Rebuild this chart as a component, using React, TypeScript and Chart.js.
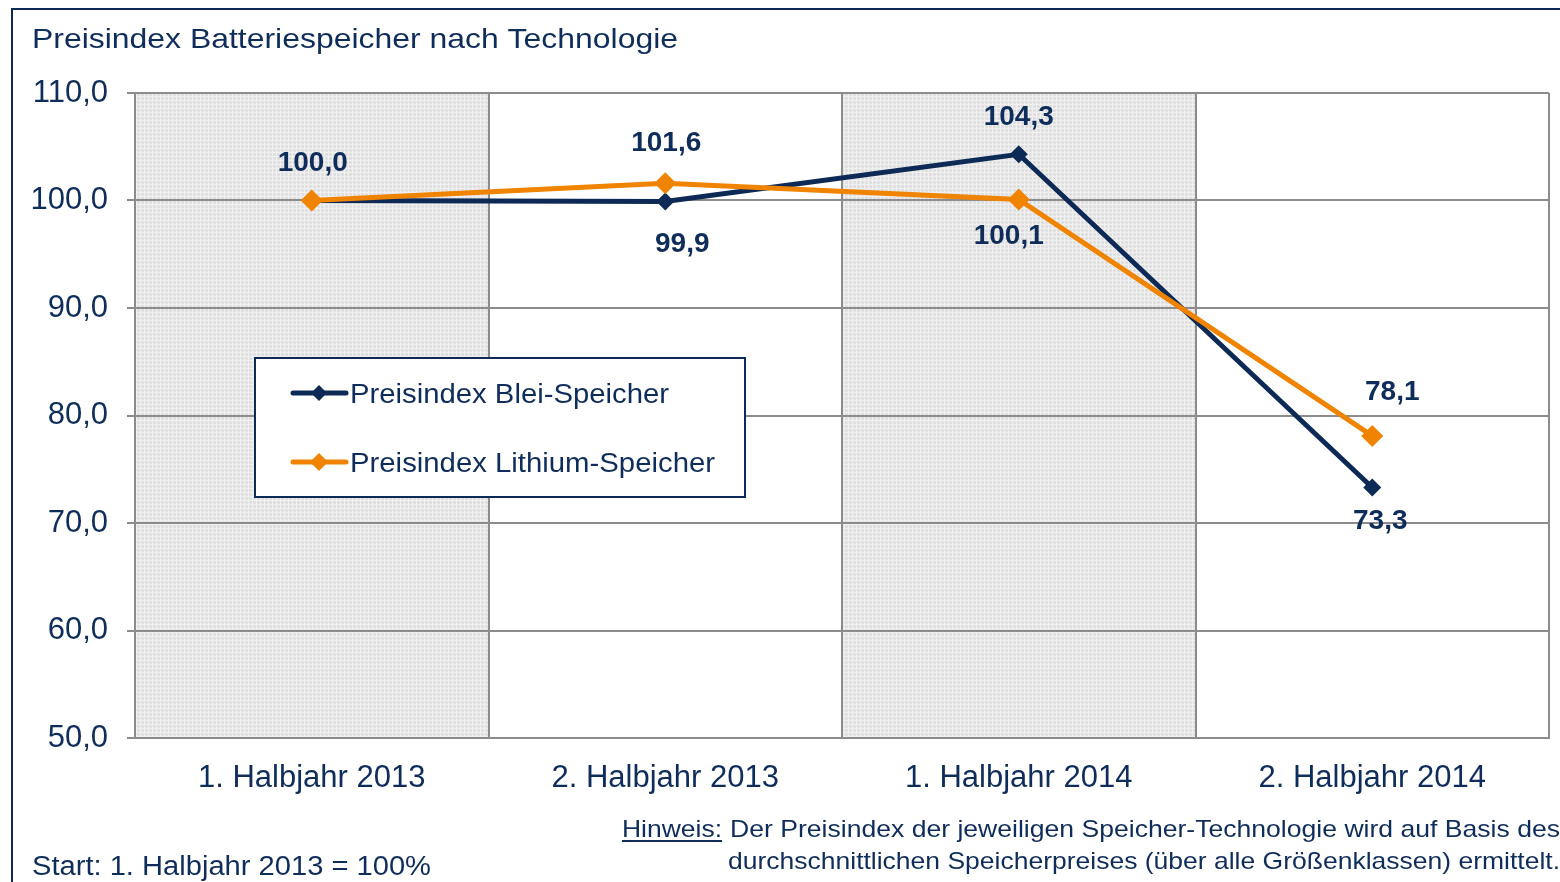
import React, { useEffect, useRef } from "react";
import { Chart, registerables } from "chart.js";

Chart.register(...registerables);

const categories = ["1. Halbjahr 2013", "2. Halbjahr 2013", "1. Halbjahr 2014", "2. Halbjahr 2014"];
const bleiValues = [100.0, 99.9, 104.3, 73.3];
const lithiumValues = [100.0, 101.6, 100.1, 78.1];
const bleiLabelShown = [true, true, true, true];
const lithiumLabelShown = [false, true, true, true];
const yMin = 50;
const yMax = 110;
const yStep = 10;
const shadedColumns = [0, 2];

const titleText = "Preisindex Batteriespeicher nach Technologie";
const bleiName = "Preisindex Blei-Speicher";
const lithiumName = "Preisindex Lithium-Speicher";
const startText = "Start: 1. Halbjahr 2013 = 100%";
const noteLabel = "Hinweis:";
const noteLine1 = "Der Preisindex der jeweiligen Speicher-Technologie wird auf Basis des";
const noteLine2 = "durchschnittlichen Speicherpreises (über alle Größenklassen) ermittelt.";

const NAVY = "#0d2a56";
const NAVY_TEXT = "#0f2d5b";
const ORANGE = "#f08300";
const GRID = "#8c8c8c";
const FONT = '"Liberation Sans", Arial, sans-serif';

// label offsets (style): [dx, dy] relative to point
const bleiLabelOffsets = [[1, -37], [17, 43], [0, -37], [8, 34]];
const lithiumLabelOffsets = [[0, -37], [1, -40], [-10, 37], [20, -44]];

const fmt = (v: number) => v.toFixed(1).replace(".", ",");

function drawFit(ctx: CanvasRenderingContext2D, text: string, x: number, y: number, font: string, targetW: number, color: string) {
  ctx.save();
  ctx.font = font;
  ctx.fillStyle = color;
  ctx.textAlign = "left";
  ctx.textBaseline = "alphabetic";
  const w = ctx.measureText(text).width;
  const s = targetW / w;
  ctx.translate(x, y);
  ctx.scale(s, 1);
  ctx.fillText(text, 0, 0);
  ctx.restore();
}

function makePattern(ctx: CanvasRenderingContext2D) {
  const c = document.createElement("canvas");
  c.width = 4;
  c.height = 4;
  const p = c.getContext("2d")!;
  p.fillStyle = "#e2e2e2";
  p.fillRect(0, 0, 4, 4);
  p.fillStyle = "#f0f0f0";
  p.fillRect(0, 0, 4, 1);
  p.fillRect(0, 0, 1, 4);
  p.fillStyle = "#d6d6d6";
  p.fillRect(2, 2, 1, 1);
  return ctx.createPattern(c, "repeat")!;
}

function diamond(ctx: CanvasRenderingContext2D, x: number, y: number, r: number, color: string) {
  ctx.beginPath();
  ctx.moveTo(x, y - r);
  ctx.lineTo(x + r, y);
  ctx.lineTo(x, y + r);
  ctx.lineTo(x - r, y);
  ctx.closePath();
  ctx.fillStyle = color;
  ctx.fill();
}

const decorPlugin = {
  id: "decor",
  beforeDraw(chart: any) {
    const { ctx, chartArea } = chart;
    ctx.save();
    ctx.fillStyle = "#ffffff";
    ctx.fillRect(0, 0, chart.width, chart.height);
    const pat = makePattern(ctx);
    const colW = chartArea.width / categories.length;
    ctx.fillStyle = pat;
    shadedColumns.forEach((i) => {
      const left = chart.scales.x.getPixelForValue(i) - colW / 2;
      ctx.fillRect(left, chartArea.top, colW, chartArea.bottom - chartArea.top);
    });
    ctx.restore();
  },
  afterDatasetsDraw(chart: any) {
    const { ctx } = chart;
    const sets = [
      { values: bleiValues, shown: bleiLabelShown, off: bleiLabelOffsets },
      { values: lithiumValues, shown: lithiumLabelShown, off: lithiumLabelOffsets },
    ];
    ctx.save();
    ctx.font = `bold 28px ${FONT}`;
    ctx.fillStyle = NAVY_TEXT;
    ctx.textAlign = "center";
    ctx.textBaseline = "middle";
    sets.forEach((s) => {
      s.values.forEach((v, i) => {
        if (!s.shown[i]) return;
        const x = chart.scales.x.getPixelForValue(i) + s.off[i][0];
        const y = chart.scales.y.getPixelForValue(v) + s.off[i][1];
        ctx.fillText(fmt(v), x, y);
      });
    });
    ctx.restore();
  },
  afterDraw(chart: any) {
    const { ctx } = chart;
    ctx.save();
    // outer frame
    ctx.strokeStyle = NAVY;
    ctx.lineWidth = 2;
    ctx.beginPath();
    ctx.moveTo(12, chart.height + 2);
    ctx.lineTo(12, 9);
    ctx.lineTo(chart.width + 2, 9);
    ctx.stroke();

    // title
    drawFit(ctx, titleText, 32, 48, `28px ${FONT}`, 646, NAVY_TEXT);

    // legend
    ctx.fillStyle = "#ffffff";
    ctx.fillRect(255, 358, 490, 139);
    ctx.strokeStyle = NAVY;
    ctx.lineWidth = 2;
    ctx.strokeRect(255, 358, 490, 139);
    const items = [
      { name: bleiName, color: NAVY, y: 393, r: 8, w: 319 },
      { name: lithiumName, color: ORANGE, y: 462, r: 9, w: 365 },
    ];
    items.forEach((it) => {
      ctx.strokeStyle = it.color;
      ctx.lineWidth = 5;
      ctx.lineCap = "round";
      ctx.beginPath();
      ctx.moveTo(293, it.y);
      ctx.lineTo(346, it.y);
      ctx.stroke();
      diamond(ctx, 319, it.y, it.r, it.color);
      drawFit(ctx, it.name, 350, it.y + 10, `27px ${FONT}`, it.w, NAVY_TEXT);
    });

    // start text
    drawFit(ctx, startText, 32, 875, `27px ${FONT}`, 399, NAVY_TEXT);

    // notes
    drawFit(ctx, noteLabel, 622, 837, `24px ${FONT}`, 100, NAVY_TEXT);
    ctx.strokeStyle = NAVY_TEXT;
    ctx.lineWidth = 2;
    ctx.lineCap = "butt";
    ctx.beginPath();
    ctx.moveTo(622, 841);
    ctx.lineTo(722, 841);
    ctx.stroke();
    drawFit(ctx, noteLine1, 730, 837, `24px ${FONT}`, 830, NAVY_TEXT);
    drawFit(ctx, noteLine2, 728, 869, `24px ${FONT}`, 832, NAVY_TEXT);
    ctx.restore();
  },
};

export default function App() {
  const ref = useRef<HTMLCanvasElement | null>(null);
  useEffect(() => {
    document.body.style.margin = "0";
    const canvas = ref.current!;
    const chart = new Chart(canvas, {
      type: "line",
      data: {
        labels: categories,
        datasets: [
          {
            label: bleiName,
            data: bleiValues,
            borderColor: NAVY,
            backgroundColor: NAVY,
            borderWidth: 5,
            pointStyle: "rectRot",
            pointRadius: 9,
            pointBorderWidth: 0,
            pointBackgroundColor: NAVY,
            tension: 0,
            order: 1,
          },
          {
            label: lithiumName,
            data: lithiumValues,
            borderColor: ORANGE,
            backgroundColor: ORANGE,
            borderWidth: 5,
            pointStyle: "rectRot",
            pointRadius: 11,
            pointBorderWidth: 0,
            pointBackgroundColor: ORANGE,
            tension: 0,
            order: 0,
          },
        ],
      },
      options: {
        responsive: false,
        animation: false,
        devicePixelRatio: 1,
        layout: { padding: { left: 0, top: 93, right: 8, bottom: 0 } },
        plugins: { legend: { display: false }, tooltip: { enabled: false }, title: { display: false } },
        scales: {
          x: {
            type: "category",
            offset: true,
            grid: { offset: true, color: GRID, lineWidth: 2, drawTicks: false },
            border: { display: true, color: GRID, width: 2 },
            ticks: { color: NAVY_TEXT, font: { family: FONT, size: 31 }, padding: 22, maxRotation: 0 },
            afterFit: (s: any) => {
              s.height = 144;
              s.paddingLeft = 0;
              s.paddingRight = 0;
            },
          },
          y: {
            min: yMin,
            max: yMax,
            grid: { color: GRID, lineWidth: 2, tickLength: 8 },
            border: { display: true, color: GRID, width: 2 },
            ticks: {
              stepSize: yStep,
              color: NAVY_TEXT,
              font: { family: FONT, size: 31 },
              padding: 19,
              callback: (v: any) => fmt(Number(v)),
            },
            afterFit: (s: any) => {
              s.width = 135;
              s.paddingTop = 0;
              s.paddingBottom = 0;
            },
          },
        },
      },
      plugins: [decorPlugin],
    } as any);
    return () => chart.destroy();
  }, []);
  return <canvas ref={ref} width={1560} height={882} style={{ display: "block", width: 1560, height: 882 }} />;
}
